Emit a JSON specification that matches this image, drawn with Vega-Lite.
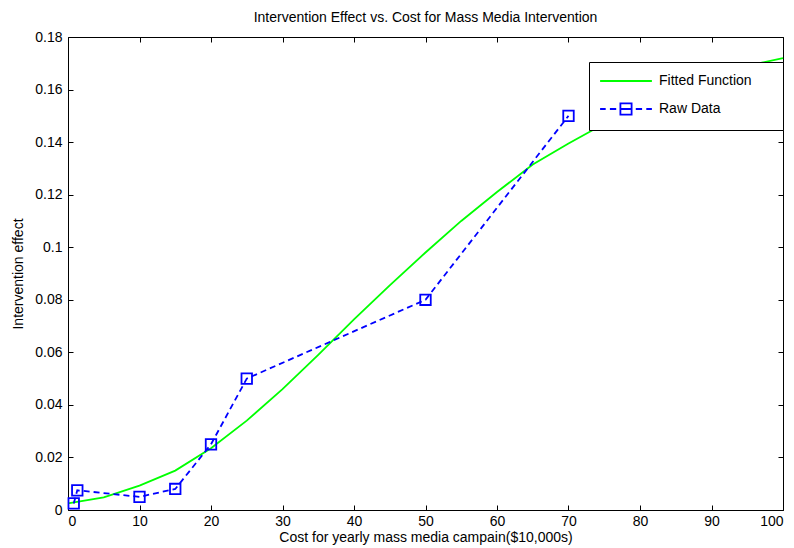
{
  "$schema": "https://vega.github.io/schema/vega-lite/v6.json",
  "width": 715,
  "height": 473,
  "autosize": {"type": "none"},
  "padding": {"left": 68, "top": 37, "right": 11, "bottom": 38},
  "background": "white",
  "title": {
    "text": "Intervention Effect vs. Cost for Mass Media Intervention",
    "font": "Liberation Sans",
    "fontSize": 14,
    "fontWeight": "normal",
    "color": "black",
    "anchor": "middle",
    "offset": 5
  },
  "config": {
    "view": {"stroke": "black", "strokeWidth": 1},
    "axis": {
      "domain": false,
      "grid": false,
      "tickSize": -5,
      "tickColor": "black",
      "tickWidth": 1,
      "labelFont": "Liberation Sans",
      "labelFontSize": 14,
      "labelColor": "black",
      "titleFont": "Liberation Sans",
      "titleFontSize": 14,
      "titleFontWeight": "normal",
      "titleColor": "black"
    }
  },
  "datasets": {
    "fit": [
      {"cost": 0, "effect": 0.0025},
      {"cost": 5, "effect": 0.0048},
      {"cost": 10, "effect": 0.0093},
      {"cost": 15, "effect": 0.015},
      {"cost": 20, "effect": 0.0235},
      {"cost": 25, "effect": 0.034},
      {"cost": 30, "effect": 0.046},
      {"cost": 35, "effect": 0.059},
      {"cost": 40, "effect": 0.0725},
      {"cost": 45, "effect": 0.0855},
      {"cost": 50, "effect": 0.098},
      {"cost": 55, "effect": 0.11},
      {"cost": 60, "effect": 0.121},
      {"cost": 65, "effect": 0.1315},
      {"cost": 70, "effect": 0.1395},
      {"cost": 75, "effect": 0.147},
      {"cost": 80, "effect": 0.154},
      {"cost": 85, "effect": 0.16},
      {"cost": 90, "effect": 0.1655},
      {"cost": 95, "effect": 0.169},
      {"cost": 100, "effect": 0.172}
    ],
    "raw": [
      {"cost": 0.8, "effect": 0.0025},
      {"cost": 1.3, "effect": 0.0075},
      {"cost": 10, "effect": 0.005},
      {"cost": 15, "effect": 0.008},
      {"cost": 20, "effect": 0.025},
      {"cost": 25, "effect": 0.05},
      {"cost": 50, "effect": 0.08},
      {"cost": 70, "effect": 0.15}
    ],
    "series": [
      {"series": "Fitted Function"},
      {"series": "Raw Data"}
    ]
  },
  "layer": [
    {
      "data": {"name": "fit"},
      "mark": {"type": "line", "color": "#00ff00", "strokeWidth": 1.8},
      "encoding": {
        "x": {
          "field": "cost",
          "type": "quantitative",
          "scale": {"domain": [0, 100], "nice": false, "zero": false},
          "axis": {
            "orient": "bottom",
            "values": [0, 10, 20, 30, 40, 50, 60, 70, 80, 90, 100],
            "labelPadding": 9,
            "title": "Cost for yearly mass media campain($10,000s)",
            "titlePadding": 2
          }
        },
        "y": {
          "field": "effect",
          "type": "quantitative",
          "scale": {"domain": [0, 0.18], "nice": false, "zero": false},
          "axis": {
            "orient": "left",
            "values": [0, 0.02, 0.04, 0.06, 0.08, 0.1, 0.12, 0.14, 0.16, 0.18],
            "format": ".2~f",
            "labelPadding": 11,
            "title": "Intervention effect",
            "titlePadding": 9
          }
        }
      }
    },
    {
      "data": {"name": "raw"},
      "mark": {"type": "line", "color": "#0000ff", "strokeWidth": 1.8, "strokeDash": [6, 4]},
      "encoding": {
        "x": {"field": "cost", "type": "quantitative", "axis": null},
        "y": {"field": "effect", "type": "quantitative", "axis": null}
      }
    },
    {
      "data": {"name": "raw"},
      "mark": {"type": "point", "shape": "square", "filled": false, "color": "#0000ff", "strokeWidth": 1.8, "size": 110, "opacity": 1},
      "encoding": {
        "x": {"field": "cost", "type": "quantitative", "axis": null},
        "y": {"field": "effect", "type": "quantitative", "axis": null}
      }
    },
    {
      "data": {"name": "series"},
      "mark": {"type": "point", "filled": false, "opacity": 0, "strokeWidth": 1.8},
      "encoding": {
        "color": {
          "field": "series",
          "type": "nominal",
          "scale": {"domain": ["Fitted Function", "Raw Data"], "range": ["#00ff00", "#0000ff"]},
          "legend": {
            "orient": "none",
            "legendX": 521,
            "legendY": 25,
            "title": null,
            "fillColor": "white",
            "strokeColor": "black",
            "padding": 11,
            "cornerRadius": 0,
            "symbolSize": 196,
            "symbolStrokeWidth": 1.8,
            "symbolOpacity": 1,
            "symbolOffset": 18,
            "labelOffset": 25,
            "labelFont": "Liberation Sans",
            "labelFontSize": 14,
            "labelColor": "black",
            "rowPadding": 11,
            "labelExpr": "datum.label + '\u00a0\u00a0\u00a0\u00a0\u00a0\u200b'"
          }
        },
        "shape": {
          "field": "series",
          "type": "nominal",
          "scale": {
            "domain": ["Fitted Function", "Raw Data"],
            "range": [
              "M-3.7,0H3.7",
              "M-3.7,0H-2.9M-2.3,0H-1.4M-0.8,-0.8H0.8V0.8H-0.8ZM-0.8,0H0.8M1.4,0H2.3M2.9,0H3.7"
            ]
          }
        }
      }
    },
    {
      "data": {"name": "raw"},
      "mark": {"type": "point", "opacity": 0},
      "encoding": {
        "x": {
          "field": "cost",
          "type": "quantitative",
          "axis": {"orient": "top", "values": [0, 10, 20, 30, 40, 50, 60, 70, 80, 90, 100], "labels": false, "title": null}
        },
        "y": {
          "field": "effect",
          "type": "quantitative",
          "axis": {"orient": "right", "values": [0, 0.02, 0.04, 0.06, 0.08, 0.1, 0.12, 0.14, 0.16, 0.18], "labels": false, "title": null}
        }
      }
    }
  ],
  "resolve": {"axis": {"x": "independent", "y": "independent"}}
}
